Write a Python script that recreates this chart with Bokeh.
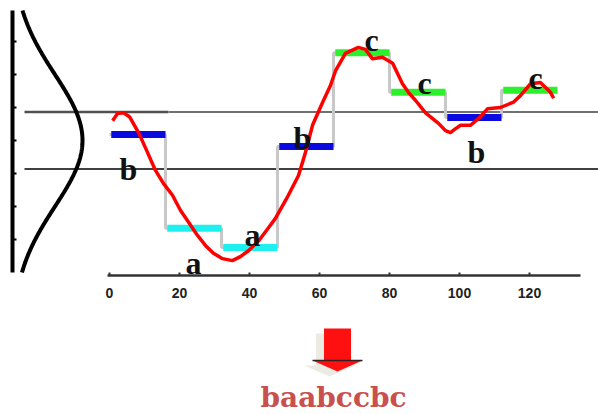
import numpy as np
from bokeh.plotting import figure
from bokeh.models import Range1d, LinearAxis, FixedTicker
from bokeh.core.properties import value
from bokeh.embed import file_html
from bokeh.resources import INLINE

# ---------------- data ----------------
series_t = [0.9, 2.3, 4.0, 5.7, 8.3, 10.6, 13.1, 15.4, 18.0, 20.3, 22.6, 24.9, 27.4, 29.7, 32.3,
            35.1, 37.4, 39.7, 42.6, 44.9, 47.4, 51.1, 54.0, 56.0, 58.0, 60.9, 63.1, 64.6, 67.4, 71.1,
            73.1, 75.1, 78.0, 80.9, 83.7, 85.4, 87.4, 90.3, 94.0, 96.0, 97.4, 98.9, 100.3, 103.1, 105.4,
            108.0, 111.7, 115.4, 117.4, 120.3, 123.1, 126.0, 126.9]
series_v = [0.30, 0.41, 0.42, 0.36, 0.12, -0.15, -0.45, -0.65, -0.83, -1.06, -1.24, -1.42, -1.59, -1.71, -1.79,
            -1.82, -1.76, -1.67, -1.52, -1.36, -1.18, -0.83, -0.53, -0.18, 0.23, 0.58, 0.83, 1.06, 1.32, 1.41,
            1.38, 1.24, 1.26, 1.17, 0.86, 0.73, 0.61, 0.42, 0.26, 0.15, 0.12, 0.18, 0.23, 0.23, 0.33,
            0.48, 0.50, 0.58, 0.68, 0.86, 0.88, 0.73, 0.64]
seg_len = 16
paa_values = [0.09, -1.33, -1.62, -0.09, 1.33, 0.73, 0.35, 0.76]
symbols = ["b", "a", "a", "b", "c", "c", "b", "c"]
breakpoints = [-0.43, 0.43]
x_ticks = [0, 20, 40, 60, 80, 100, 120]
word = "baabccbc"

# ---------------- layout / style ----------------
W, H = 598, 414
X0, PXX = 109.0, 3.5      # canvas px of x=0, px per x unit
Y0, PXY = 140.0, 66.0     # canvas px of v=0, px per v unit


def fx(px):
    return (px - X0) / PXX


def fy(py):
    return (Y0 - py) / PXY


sym_color = {"a": "#1ef0f0", "b": "#0a0ae0", "c": "#2cf02c"}
label_dx = [-9, 0, 3, -3, 10, 7, 3, 6]
label_dy = [34, 35, -12, -8, -13, -9, 35, -12]

p = figure(width=W, height=H, x_range=Range1d(fx(0), fx(W)), y_range=Range1d(fy(H), fy(0)),
           output_backend="svg", toolbar_location=None, min_border=0,
           x_axis_location=None, y_axis_location=None, outline_line_color=None,
           background_fill_color="white", border_fill_color="white")
p.grid.visible = False

# breakpoint lines
lo, hi = breakpoints
p.line([fx(24), fx(W)], [lo, lo], line_color="#404040", line_width=2)
p.line([fx(24), fx(168)], [hi, hi], line_color="#505050", line_width=2.5)
p.line([fx(168), fx(W)], [hi, hi], line_color="#707070", line_width=2)

# gaussian on the left
v = np.linspace(-2.0, 1.97, 200)
g_base = fx(12)
g_amp = 70 / PXX
p.line(g_base + g_amp * np.exp(-v ** 2 / 2), v, line_color="black", line_width=4)

g_ticks = [-1.5, -1.0, -0.5, 0.0, 0.5, 1.0, 1.5]
yax = LinearAxis(fixed_location=g_base, bounds=(fy(272), fy(10)), ticker=FixedTicker(ticks=g_ticks))
yax.axis_line_width = 4
yax.axis_line_color = "black"
yax.major_tick_in = 4
yax.major_tick_out = 0
yax.major_tick_line_width = 2
yax.minor_tick_line_color = None
yax.major_label_overrides = {t: "" for t in g_ticks}
p.add_layout(yax, "left")

# time axis
xax = LinearAxis(fixed_location=fy(275), bounds=(fx(107), fx(580)), ticker=FixedTicker(ticks=x_ticks))
xax.axis_line_width = 2.5
xax.axis_line_color = "#333333"
xax.major_tick_in = 3
xax.major_tick_out = 0
xax.major_tick_line_width = 2
xax.major_tick_line_color = "#333333"
xax.minor_tick_line_color = None
xax.major_label_standoff = 12
xax.major_label_text_font = "Liberation Sans"
xax.major_label_text_font_style = "bold"
xax.major_label_text_font_size = "14px"
xax.major_label_text_color = "#222222"
p.add_layout(xax, "below")

# PAA steps
edges = [i * seg_len for i in range(len(paa_values) + 1)]
p.step(edges, paa_values + [paa_values[-1]], mode="after", line_color="#c8c8c8", line_width=3)
p.segment(x0=[e + 0.5 for e in edges[:-1]], y0=paa_values, x1=[e + seg_len for e in edges[:-1]], y1=paa_values,
          line_color=[sym_color[s] for s in symbols], line_width=7, line_cap="butt")

# raw series
p.line(series_t, series_v, line_color="#ff0000", line_width=3.5, line_join="round")

# symbol labels
centers = [e + seg_len / 2 for e in edges[:-1]]
p.text(x=centers, y=paa_values, text=symbols, x_offset=label_dx, y_offset=label_dy,
       text_font=value("Liberation Serif"), text_font_style="bold", text_font_size="32px",
       text_align="center", text_baseline="alphabetic", text_color="#111111")

# arrow
ac = 337


def arrow_shape(ox, oy):
    xs = [ac - 13.5, ac + 13.5, ac + 13.5, ac + 25, ac, ac - 25, ac - 13.5]
    ys = [328, 328, 360, 360, 371, 360, 360]
    return [fx(x + ox) for x in xs], [fy(y + oy) for y in ys]


sx, sy = arrow_shape(-8, 5)
p.patch(sx, sy, fill_color="#ebebe3", line_color=None)
ax_, ay_ = arrow_shape(0, 0)
p.patch(ax_, ay_, fill_color="#ff1010", line_color=None)
p.line([fx(ac - 25), fx(ac + 25)], [fy(360), fy(360)], line_color="#302020", line_width=1.5)

# resulting word
p.text(x=[np.mean([edges[0], edges[-1]])], y=[fy(397)], text=[word],
       text_font=value("DejaVu Serif"), text_font_style="bold", text_font_size="28px",
       text_align="center", text_baseline="alphabetic", text_color="#c8504e")

open("out.html", "w").write(file_html(p, INLINE))
